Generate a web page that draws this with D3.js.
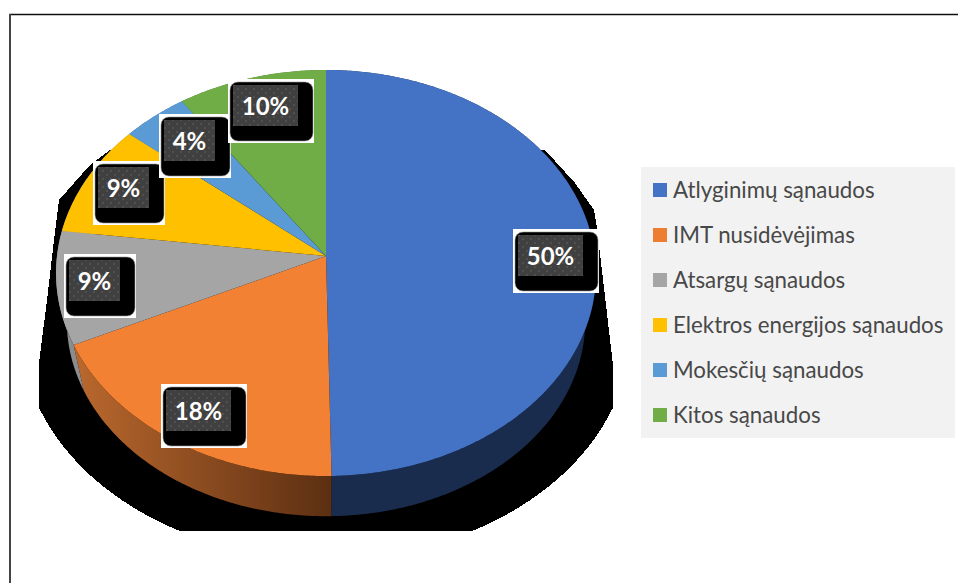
<!DOCTYPE html>
<html>
<head>
<meta charset="utf-8">
<script src="https://cdn.jsdelivr.net/npm/d3@7"></script>
<style>
  html, body { margin: 0; padding: 0; background: #fff; }
  svg { display: block; }
  text { font-family: Lato, "Open Sans", sans-serif; }
</style>
</head>
<body>
<div id="chart"></div>
<script>
// data
var categories = ["Atlyginimų sąnaudos", "IMT nusidėvėjimas", "Atsargų sąnaudos", "Elektros energijos sąnaudos", "Mokesčių sąnaudos", "Kitos sąnaudos"];
var shares = [49.7, 18.3, 9, 9, 4.3, 9.7];

// styles
var topColors = ["#4472c4", "#f38133", "#a5a5a5", "#ffc000", "#5b9bd5", "#70ad47"];
var legendColors = ["#4472c4", "#ed7d31", "#a5a5a5", "#ffc000", "#5b9bd5", "#70ad47"];
var wallColors = ["#1a2c4e", "url(#orangeWall)", "#8c8c8c", "#8c8c8c", "#3a6a96", "#4a7530"];

// top left corner of the white label boxes, same order as categories
var labelCorners = [[513, 229], [161, 384], [64, 254], [93, 161], [159, 114], [228, 79]];

// outline of the black shadow that peeks out above the ellipse part
var shadowSides = [[110, 150], [90, 165], [59, 200], [54, 240], [47, 300], [39, 363], [39, 409], [613, 409], [613, 365], [597, 228], [594, 210], [575, 183], [545, 150]];

var width = 958, height = 583;

var svg = d3.select("#chart")
    .append("svg")
    .attr("width", width)
    .attr("height", height);

var defs = svg.append("defs");

var grad = defs.append("linearGradient")
    .attr("id", "orangeWall")
    .attr("gradientUnits", "userSpaceOnUse")
    .attr("x1", 80).attr("x2", 331).attr("y1", 0).attr("y2", 0);
grad.append("stop").attr("offset", "0%").attr("stop-color", "#b8672d");
grad.append("stop").attr("offset", "100%").attr("stop-color", "#5c2f12");

// dotted fill of the label tag
var dots = defs.append("pattern")
    .attr("id", "tagDots")
    .attr("patternUnits", "userSpaceOnUse")
    .attr("width", 8).attr("height", 8);
dots.append("rect").attr("width", 8).attr("height", 8).attr("fill", "#404040");
dots.append("circle").attr("cx", 2).attr("cy", 2).attr("r", 0.9).attr("fill", "#575757");
dots.append("circle").attr("cx", 6).attr("cy", 6).attr("r", 0.9).attr("fill", "#575757");

// only the lower part of the shadow ellipse is used, cut flat at the bottom
defs.append("clipPath")
    .attr("id", "shadowClip")
    .append("rect")
    .attr("x", 39).attr("y", 408).attr("width", 574).attr("height", 123);

// the frame, only top and left show
svg.append("line").attr("x1", 9).attr("x2", width).attr("y1", 14.5).attr("y2", 14.5)
    .attr("stroke", "#111").attr("stroke-width", 1.5);
svg.append("line").attr("x1", 10).attr("x2", 10).attr("y1", 14).attr("y2", height)
    .attr("stroke", "#444").attr("stroke-width", 2);

// pie tilted in perspective, the apex sits above the middle of the ellipse
var cx = 326, cy = 256, rimX = 269, rimY = 201.6, persp = 0.0837;
var depth = 49, lowerScale = 0.96;

function project(angle, scale, offset) {
    var u = Math.sin(angle), v = Math.cos(angle), w = 1 + persp * v;
    return [cx + scale * rimX * u / w, cy + offset - scale * rimY * v / w];
}

function rim(a0, a1, scale, offset) {
    var n = Math.max(2, Math.ceil((a1 - a0) / 0.01));
    return d3.range(n + 1).map(function (i) {
        return project(a0 + (a1 - a0) * i / n, scale, offset);
    });
}

var line = d3.line();

var slices = d3.pie()
    .sort(null)
    .value(function (d) { return d; })(shares);

// black shadow behind the pie
var shadow = svg.append("g")
    .attr("shape-rendering", "crispEdges");
shadow.append("ellipse")
    .attr("clip-path", "url(#shadowClip)")
    .attr("cx", cx).attr("cy", 330)
    .attr("rx", 305).attr("ry", 229)
    .attr("fill", "#000");
shadow.append("path")
    .attr("d", line(shadowSides) + "Z")
    .attr("fill", "#000");

// side wall
svg.append("g")
    .selectAll("path")
    .data(slices)
    .enter()
    .append("path")
    .attr("d", function (d) {
        var upper = rim(d.startAngle, d.endAngle, 1, 0);
        var lower = rim(d.startAngle, d.endAngle, lowerScale, depth).reverse();
        return line(upper.concat(lower)) + "Z";
    })
    .attr("fill", function (d, i) { return wallColors[i]; });

// top surface
svg.append("g")
    .selectAll("path")
    .data(slices)
    .enter()
    .append("path")
    .attr("d", function (d) {
        return line([[cx, cy]].concat(rim(d.startAngle, d.endAngle, 1, 0))) + "Z";
    })
    .attr("fill", function (d, i) { return topColors[i]; });

// data labels
var labels = svg.append("g")
    .selectAll("g")
    .data(shares)
    .enter()
    .append("g")
    .attr("transform", function (d, i) {
        return "translate(" + labelCorners[i][0] + "," + labelCorners[i][1] + ")";
    });

function boxWidth(d) { return Math.round(d) >= 10 ? 86 : 72; }

labels.append("rect")
    .attr("width", boxWidth)
    .attr("height", 64)
    .attr("fill", "#fff");
labels.append("rect")
    .attr("x", 2).attr("y", 3)
    .attr("width", function (d) { return boxWidth(d) - 3; })
    .attr("height", 59)
    .attr("rx", 8)
    .attr("fill", "#000")
    .attr("stroke", "#999")
    .attr("stroke-width", 0.6);
labels.append("rect")
    .attr("x", 5).attr("y", 6)
    .attr("width", function (d) { return boxWidth(d) - 21; })
    .attr("height", 41)
    .attr("fill", "url(#tagDots)");
labels.append("text")
    .attr("x", function (d) { return 5 + (boxWidth(d) - 21) / 2; })
    .attr("y", 36)
    .attr("text-anchor", "middle")
    .attr("font-size", 24)
    .attr("font-weight", 700)
    .attr("fill", "#fff")
    .text(function (d) { return Math.round(d) + "%"; });

// legend
var legendY = d3.scalePoint()
    .domain(categories)
    .range([190, 415]);

svg.append("rect")
    .attr("x", 641).attr("y", 167)
    .attr("width", 314).attr("height", 271)
    .attr("fill", "#f2f2f2");

var legend = svg.append("g")
    .selectAll("g")
    .data(categories)
    .enter()
    .append("g")
    .attr("transform", function (d) { return "translate(653," + legendY(d) + ")"; });

legend.append("rect")
    .attr("y", -7)
    .attr("width", 14).attr("height", 14)
    .attr("fill", function (d, i) { return legendColors[i]; });

legend.append("text")
    .attr("x", 20)
    .attr("y", 7.5)
    .attr("font-size", 22.3)
    .attr("fill", "#484848")
    .text(function (d) { return d; });
</script>
</body>
</html>
